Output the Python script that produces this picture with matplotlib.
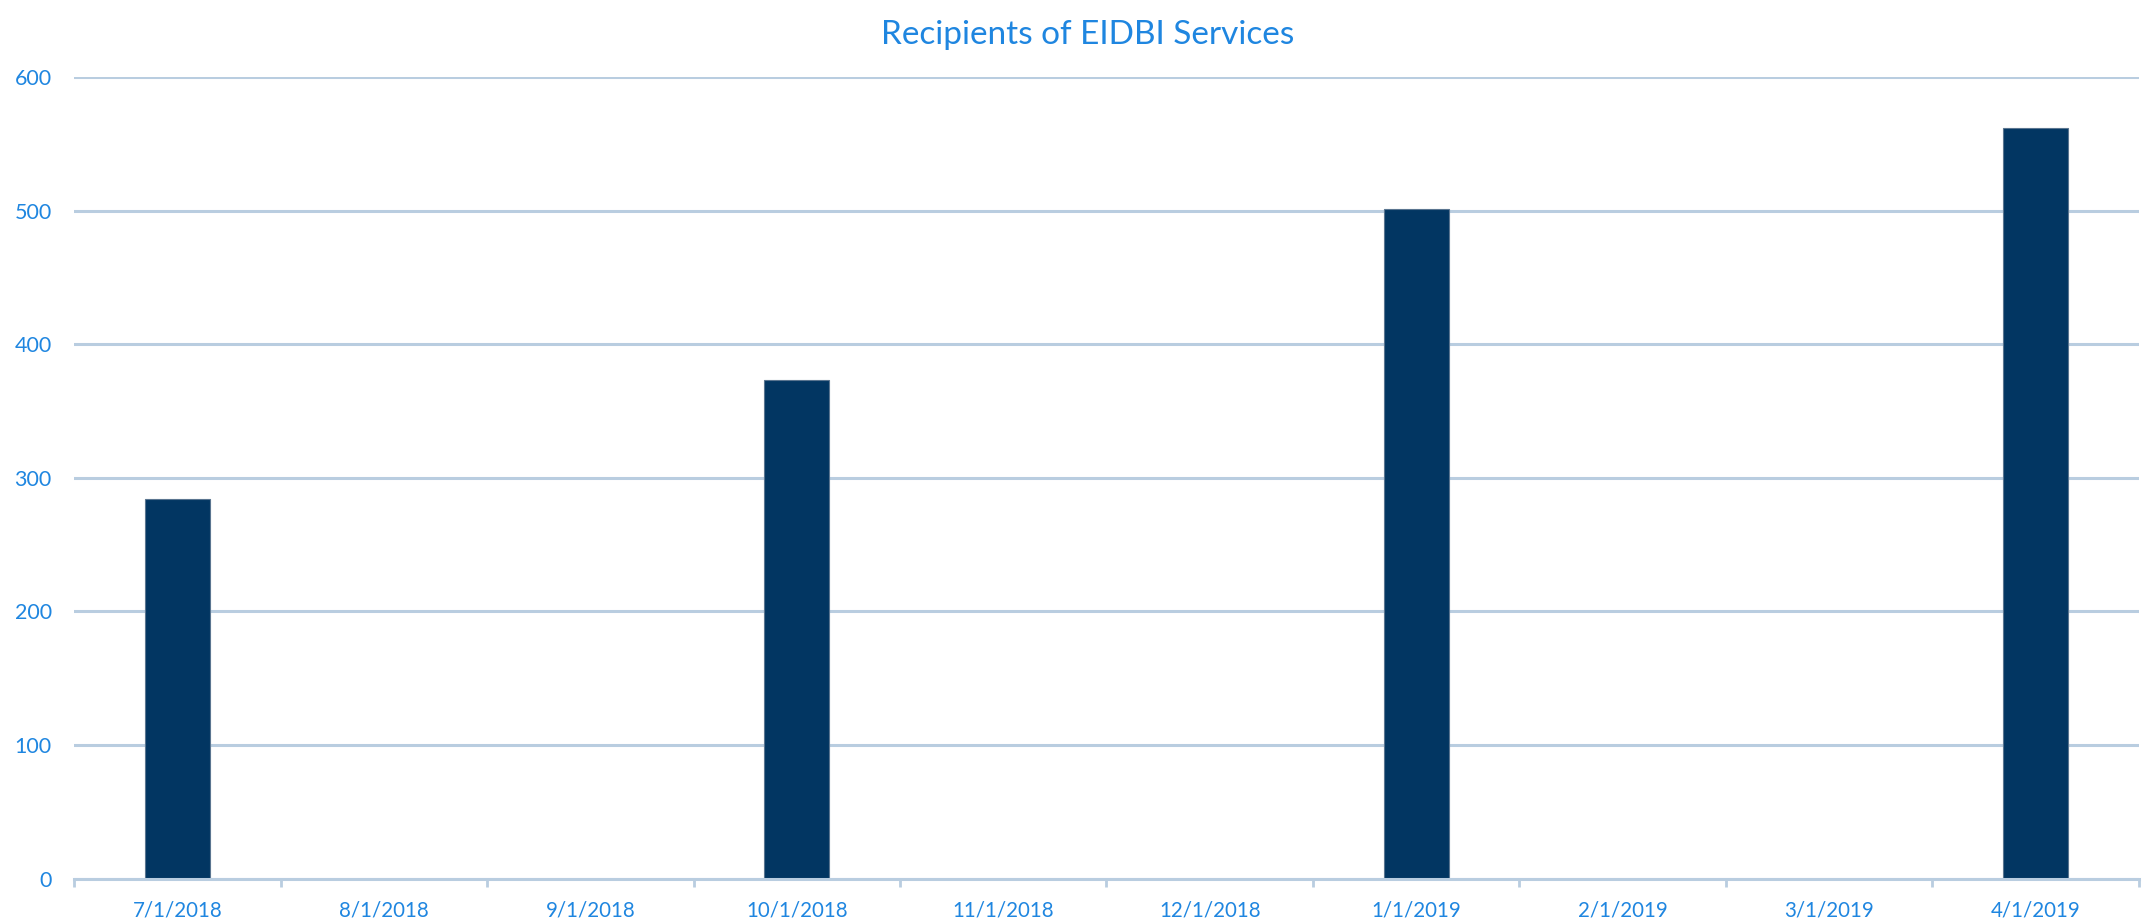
import numpy as np
import matplotlib
matplotlib.use('Agg')
import matplotlib.pyplot as plt

months = ['7/1/2018', '8/1/2018', '9/1/2018', '10/1/2018', '11/1/2018',
          '12/1/2018', '1/1/2019', '2/1/2019', '3/1/2019', '4/1/2019']
recipients = [284, 0, 0, 373, 0, 0, 501, 0, 0, 562]
yticks = [0, 100, 200, 300, 400, 500, 600]

plt.rcParams['font.family'] = ['Lato', 'DejaVu Sans']

text_blue = '#1f86e0'
grid_col = '#b9cde0'
bar_col = '#023662'

fig = plt.figure(figsize=(21.46, 9.23), dpi=100)
ax = fig.add_axes([0.0345, 0.0481, 0.9622, 0.8685])

x = np.arange(len(months))
ax.bar(x, recipients, width=0.315, color=bar_col, edgecolor='#5a7590',
       linewidth=0.8, zorder=3)

ax.set_xlim(-0.5, len(months) - 0.5)
ax.set_ylim(0, 600)
ax.set_yticks(yticks)
ax.set_yticklabels([str(v) for v in yticks])
ax.set_xticks(x)
ax.set_xticklabels(months)
ax.set_xticks(np.arange(-0.5, len(months)), minor=True)

ax.grid(axis='y', color=grid_col, linewidth=2.2, zorder=0)
ax.set_axisbelow(True)
for s in ['top', 'right', 'left']:
    ax.spines[s].set_visible(False)
ax.spines['bottom'].set_color(grid_col)
ax.spines['bottom'].set_linewidth(2.2)
ax.spines['bottom'].set_zorder(4)

ax.tick_params(axis='y', length=0, pad=16, labelsize=15.5, labelcolor=text_blue)
ax.tick_params(axis='x', which='major', length=0, pad=16, labelsize=14.8,
               labelcolor=text_blue)
ax.tick_params(axis='x', which='minor', length=6, width=2, color=grid_col)

fig.suptitle('Recipients of EIDBI Services', x=0.507, y=0.978, fontsize=24,
             color=text_blue)

fig.savefig('out.png', dpi=100)
